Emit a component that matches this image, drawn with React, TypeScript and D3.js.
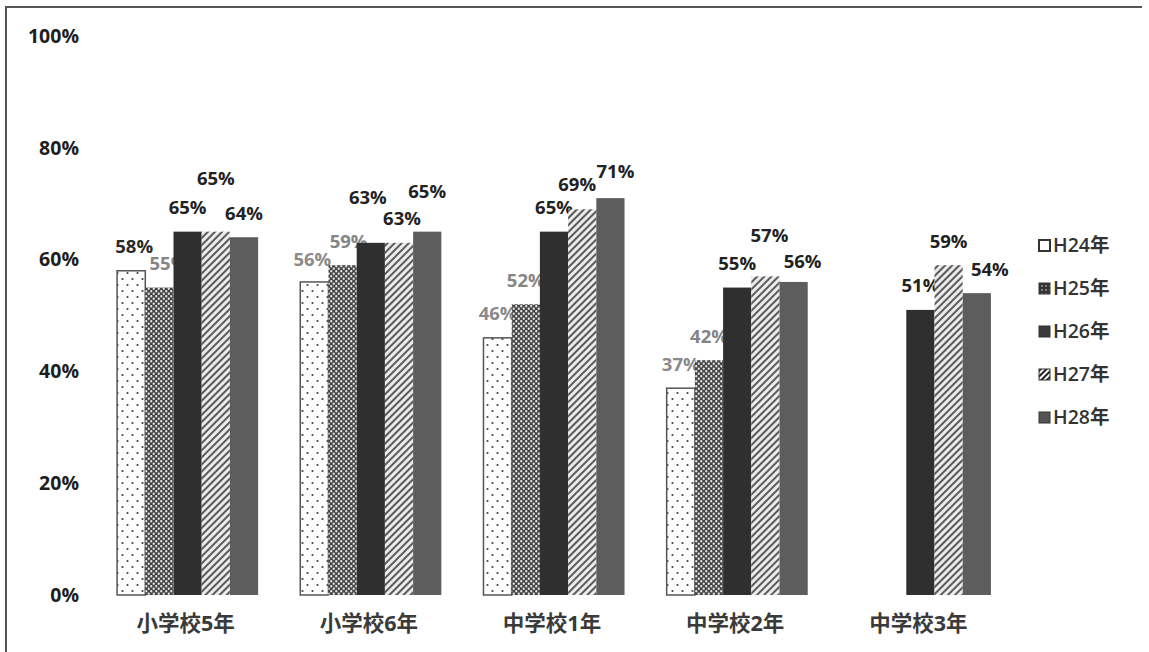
import React from "react";
import * as d3 from "d3";

const categories = ["小学校5年", "小学校6年", "中学校1年", "中学校2年", "中学校3年"];
const seriesNames = ["H24年", "H25年", "H26年", "H27年", "H28年"];
const h24 = [58, 56, 46, 37, null];
const h25 = [55, 59, 52, 42, null];
const h26 = [65, 63, 65, 55, 51];
const h27 = [65, 63, 69, 57, 59];
const h28 = [64, 65, 71, 56, 54];
const seriesValues: (number | null)[][] = [h24, h25, h26, h27, h28];
const yTicks = [0, 20, 40, 60, 80, 100];

// layout tweaks for value labels (extra lift / horizontal nudge in px), keyed "series-category"
const labelLift: Record<string, number> = {
  "3-0": 29, "2-1": 21, "4-1": 16, "3-3": 17, "4-3": -4, "3-2": 1, "4-2": 3, "0-1": -2,
};
const labelNudge: Record<string, number> = {
  "1-0": 9, "1-1": 6, "3-3": 4, "4-3": 9, "4-4": 13, "0-0": 3, "3-2": -5, "4-2": 5,
  "2-1": -3, "3-1": 3, "0-1": -2,
};

const W = 1149;
const H = 652;
const fills = ["url(#pH24)", "url(#pH25)", "#2f2f2f", "url(#pH27)", "#5d5d5d"];
const legendFills = ["#ffffff", "url(#pH25L)", "#3a3a3a", "url(#pH27L)", "#555555"];
const labelColors = ["#2a2a2a", "#7a7a7a", "#222", "#222", "#222"];

export default function App() {
  const x = d3.scaleBand<string>().domain(categories).range([96, 1012]).padding(0);
  const step = x.bandwidth();
  const xs = d3
    .scaleBand<string>()
    .domain(seriesNames)
    .range([step * 0.115, step * 0.885])
    .padding(0);
  const y = d3.scaleLinear().domain([0, 100]).range([595, 36]);
  const font = "'Open Sans', 'Noto Sans CJK JP', sans-serif";

  const labelColor = (si: number, ci: number) => {
    if (si === 0) return ci === 0 ? "#2a2a2a" : "#8a8a8a";
    if (si === 1) return "#858585";
    return labelColors[si];
  };

  return (
    <svg
      width={W}
      height={H}
      style={{ position: "absolute", left: 0, top: 0, background: "#fff" }}
      fontFamily={font}
    >
      <defs>
        <pattern id="pH24" width={10} height={12} patternUnits="userSpaceOnUse">
          <rect width={10} height={12} fill="#fdfdfd" />
          <circle cx={2.5} cy={3} r={1.1} fill="#444" />
          <circle cx={7.5} cy={9} r={1.1} fill="#444" />
        </pattern>
        <pattern id="pH25" width={5} height={5} patternUnits="userSpaceOnUse">
          <rect width={5} height={5} fill="#444" />
          <circle cx={1.25} cy={1.25} r={1.15} fill="#e8e8e8" />
          <circle cx={3.75} cy={3.75} r={1.15} fill="#e8e8e8" />
        </pattern>
        <pattern id="pH25L" width={4} height={4} patternUnits="userSpaceOnUse">
          <rect width={4} height={4} fill="#333" />
          <circle cx={2} cy={2} r={0.8} fill="#ddd" />
        </pattern>
        <pattern
          id="pH27"
          width={5}
          height={5}
          patternUnits="userSpaceOnUse"
          patternTransform="rotate(45)"
        >
          <rect width={5} height={5} fill="#ebebeb" />
          <rect width={2} height={5} fill="#5a5a5a" />
        </pattern>
        <pattern
          id="pH27L"
          width={4}
          height={4}
          patternUnits="userSpaceOnUse"
          patternTransform="rotate(45)"
        >
          <rect width={4} height={4} fill="#fff" />
          <rect width={2} height={4} fill="#222" />
        </pattern>
      </defs>

      {/* frame */}
      <line x1={6} y1={7} x2={1142} y2={7} stroke="#555" strokeWidth={2} />
      <line x1={6} y1={6} x2={6} y2={652} stroke="#555" strokeWidth={2} />

      {/* y tick labels */}
      {yTicks.map((t) => (
        <text
          key={t}
          x={79}
          y={y(t)}
          dy="0.35em"
          textAnchor="end"
          fontSize={19.5}
          fontWeight={700}
          fill="#1e1e1e"
        >
          {t}%
        </text>
      ))}

      {/* value labels (drawn below bars) */}
      {seriesValues.map((vals, si) =>
        vals.map((v, ci) => {
          if (v === null) return null;
          const key = `${si}-${ci}`;
          const cx = (x(categories[ci]) ?? 0) + (xs(seriesNames[si]) ?? 0) + xs.bandwidth() / 2;
          return (
            <text
              key={"l" + key}
              x={cx + (labelNudge[key] ?? 0)}
              y={y(v) - 24 - (labelLift[key] ?? 0)}
              dy="0.35em"
              textAnchor="middle"
              fontSize={18.5}
              fontWeight={700}
              fill={labelColor(si, ci)}
            >
              {v}%
            </text>
          );
        })
      )}

      {/* bars */}
      {seriesValues.map((vals, si) =>
        vals.map((v, ci) => {
          if (v === null) return null;
          const bx = (x(categories[ci]) ?? 0) + (xs(seriesNames[si]) ?? 0);
          return (
            <rect
              key={`b${si}-${ci}`}
              x={bx}
              y={y(v)}
              width={xs.bandwidth()}
              height={y(0) - y(v)}
              fill={fills[si]}
              stroke={si === 0 ? "#555" : "none"}
              strokeWidth={si === 0 ? 1.5 : 0}
            />
          );
        })
      )}

      {/* category labels */}
      {categories.map((c) => (
        <text
          key={c}
          x={(x(c) ?? 0) + step / 2 - 2}
          y={623}
          dy="0.35em"
          textAnchor="middle"
          fontSize={21.5}
          fontWeight={700}
          fill="#3a3a3a"
        >
          {c}
        </text>
      ))}

      {/* legend */}
      {seriesNames.map((s, i) => {
        const ly = 245 + i * 43;
        return (
          <g key={s}>
            <rect
              x={1039}
              y={ly - 5}
              width={11}
              height={11}
              fill={legendFills[i]}
              stroke="#333"
              strokeWidth={i === 0 ? 2 : 1}
            />
            <text
              x={1053}
              y={ly}
              dy="0.35em"
              fontSize={19.5}
              fontWeight={600}
              fill="#333"
            >
              {s}
            </text>
          </g>
        );
      })}
    </svg>
  );
}
